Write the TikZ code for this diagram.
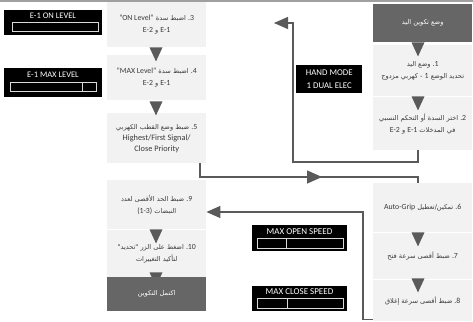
\documentclass[tikz,border=0pt]{standalone}
\usepackage{fontspec}
\setmainfont{Carlito}
\newfontfamily\arfont[Script=Arabic]{DejaVu Sans}
\TeXXeTstate=1
\usetikzlibrary{arrows.meta,decorations.markings}
\definecolor{lightbox}{HTML}{F2F2F2}
\definecolor{darkbox}{HTML}{666666}
\definecolor{linegray}{HTML}{5A5A5A}
\definecolor{textgray}{HTML}{3A3A3A}
\definecolor{topline}{HTML}{A0A0A0}
\newcommand\AR[1]{{\arfont\beginR #1\endR}}
\newcommand\LT[1]{{\rmfamily\fontsize{7.8}{12}\selectfont\beginL #1\endL}}
\tikzset{
  lbox/.style={fill=lightbox, text=textgray, anchor=north west, minimum width=99pt,
    inner sep=0pt, align=center, font=\fontsize{6.6}{12}\selectfont},
  dbox/.style={lbox, fill=darkbox, text=white},
  disp/.style={fill=black, anchor=north west, inner sep=0pt},
  disptext/.style={text=white, inner sep=0pt, font=\fontsize{8.5}{11}\selectfont, align=center},
  bar/.style={draw=white!85!black, line width=0.8pt},
  conn/.style={draw=linegray, line width=1.3pt},
  tip/.style={-{Triangle[length=14pt,width=12pt]}},
  downtri/.pic={\fill[linegray] (-6.5,0) -- (6.5,0) -- (0,14) -- cycle;}
}
\begin{document}
\begin{tikzpicture}[x=1pt,y=-1pt]
\useasboundingbox (0,0) rectangle (473,321);
\fill[white] (0,0) rectangle (473,321);
\draw[topline, line width=2pt] (0,1) -- (473,1);

% column guides
\coordinate (lx) at (156,0);
\coordinate (rx) at (418,0);

% left column
\node[lbox, minimum height=45pt] (b3) at (107,2)
  {\AR{\LT{.3} اضبط سدة \LT{"ON Level"}}\\ \AR{\LT{E-1} و \LT{E-2}}};
\node[lbox, minimum height=45pt] (b4) at (107,55)
  {\AR{\LT{.4} اضبط سدة \LT{"MAX Level"}}\\ \AR{\LT{E-1} و \LT{E-2}}};
\node[lbox, minimum height=50pt, font=\fontsize{6.6}{11}\selectfont] (b5) at (107,113)
  {\AR{\LT{.5} ضبط وضع القطب الكهربي}\\ {\fontsize{8.3}{11}\selectfont Highest/First Signal/}\\ {\fontsize{8.3}{11}\selectfont Close Priority}};
\node[lbox, minimum height=49pt] (b9) at (107,180)
  {\AR{\LT{.9} ضبط الحد الأقصى لعدد}\\ \AR{النبضات \LT{(1-3)}}};
\node[lbox, minimum height=47pt] (b10) at (107,230)
  {\AR{\LT{.10} اضغط على الزر "تحديد"}\\ \AR{لتأكيد التغييرات}};

\pic at (b3.south -| lx) {downtri};
\pic at ([yshift=-1pt]b4.south -| lx) {downtri};
\pic at (b9.south -| lx) {downtri};
\pic at ([yshift=5pt]b10.south -| lx) {downtri};

\node[dbox, minimum height=34pt] (bend) at (107,277) {\AR{اكتمل التكوين}};

% right column
\node[dbox, minimum height=38pt] (rs) at (373,4) {\AR{وضع تكوين اليد}};
\node[lbox, minimum height=51pt] (r1) at (373,45)
  {\AR{\LT{.1} وضع اليد}\\ \AR{تحديد الوضع \LT{1} - كهربي مزدوج}};
\node[lbox, minimum height=53pt] (r2) at (373,97)
  {\AR{\LT{.2} اختر السدة أو التحكم النسبي}\\ \AR{في المدخلات \LT{E-1} و \LT{E-2}}};
\node[lbox, minimum height=49pt] (r6) at (373,183)
  {\AR{\LT{.6} تمكين/تعطيل \LT{Auto-Grip}}};
\node[lbox, minimum height=46pt] (r7) at (373,233)
  {\AR{\LT{.7} ضبط أقصى سرعة فتح}};
\node[lbox, minimum height=41pt] (r8) at (373,280)
  {\AR{\LT{.8} ضبط أقصى سرعة إغلاق}};

\pic at (rs.south -| rx) {downtri};
\pic at (r1.south -| rx) {downtri};
\pic at (r6.south -| rx) {downtri};
\pic at ([yshift=1pt]r7.south -| rx) {downtri};

% displays
\node[disp, minimum width=98pt, minimum height=25pt] (d1) at (4,10) {};
\node[disptext] (d1t) at (53,15.5) {E-1 ON LEVEL};
\draw[bar] (12,22) rectangle (98,31.5);

\node[disp, minimum width=98pt, minimum height=29pt] (d2) at (4,68) {};
\node[disptext] (d2t) at (53,74.5) {E-1 MAX LEVEL};
\draw[bar] (10,82) rectangle (96.5,91.5) (82.3,82) -- (82.3,91.5);

\node[disp, minimum width=66pt, minimum height=28pt] (d3) at (296,65) {};
\node[disptext, font=\fontsize{8.8}{13.5}\selectfont] (d3t) at (d3.center) {HAND MODE\\1 DUAL ELEC};

\node[disp, minimum width=95pt, minimum height=26pt] (d4) at (252,225) {};
\node[disptext, font=\fontsize{9}{11}\selectfont] (d4t) at (299.5,231.5) {MAX OPEN SPEED};
\draw[bar] (257.3,238.3) rectangle (343.5,248) (286.7,238.3) -- (286.7,248);

\node[disp, minimum width=95pt, minimum height=25pt] (d5) at (252,286) {};
\node[disptext, font=\fontsize{9}{11}\selectfont] (d5t) at (299.5,292) {MAX CLOSE SPEED};
\draw[bar] (257.3,298.5) rectangle (343.5,308.2) (287,298.5) -- (287,308.2);

% connectors
\coordinate (c1) at (293,162);
\coordinate (c1end) at (274,23);
\draw[conn, tip] (r2.south -| rx) |- (c1) |- (c1end);

\coordinate (c2a) at (200,163);
\coordinate (c2b) at (418,177);
\draw[conn, postaction={decorate}, decoration={markings,
  mark=at position 136pt with {\arrow{Triangle[length=15pt,width=13pt]}}}]
  (c2a) |- (c2b) -- (r6.north -| rx);

\coordinate (c3) at (363,212);
\draw[conn, tip] ([yshift=2pt]r8.south west) -| (c3) -- (c3 -| b9.east);
\end{tikzpicture}
\end{document}
